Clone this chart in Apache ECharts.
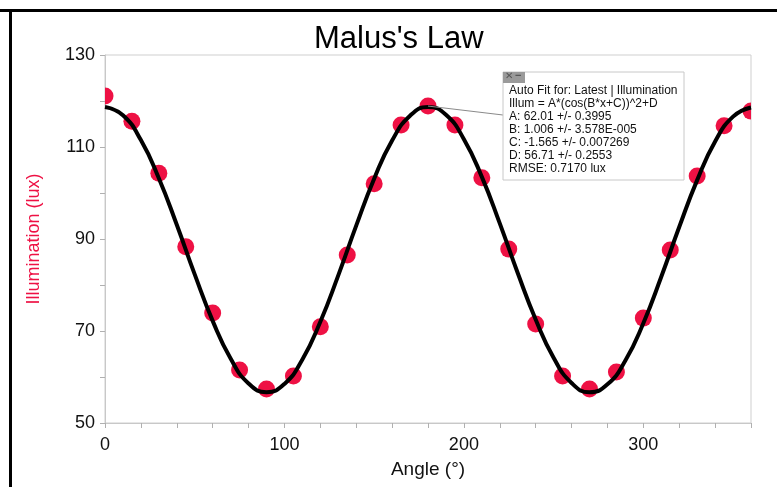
<!DOCTYPE html>
<html>
<head>
<meta charset="utf-8">
<script src="https://cdn.jsdelivr.net/npm/echarts@6/dist/echarts.min.js"></script>
<style>
html,body{margin:0;padding:0;background:#fff;}
#chart{width:777px;height:487px;}
</style>
</head>
<body>
<div id="chart"></div>
<script>
// Measured data points (angle in degrees, illumination in lux)
var angles = [0,15,30,45,60,75,90,105,120,135,150,165,180,195,210,225,240,255,270,285,300,315,330,345,360];
var illumination = [121.1,115.6,104.3,88.3,73.9,61.5,57.4,60.2,70.9,86.5,102.0,114.8,118.9,114.8,103.3,87.8,71.5,60.2,57.4,61.1,72.8,87.6,103.7,114.6,117.8];

// Fit curve
var fitAngles = [0,10,20,30,40,50,60,70,80,90,100,110,120,130,140,150,160,170,180,190,200,210,220,230,240,250,260,270,280,290,300,310,320,330,340,350,360];
var fitValues = [118.7,116.9,111.5,103.2,93.1,82.3,72.2,64.0,58.6,56.7,58.5,63.8,72.0,82.1,92.9,103.1,111.4,116.8,118.7,117.0,111.7,103.5,93.4,82.6,72.5,64.2,58.7,56.7,58.4,63.6,71.7,81.8,92.6,102.8,111.2,116.6,118.6];

var yTickLabels = [50,70,90,110,130];
var xTickLabels = [0,100,200,300];

var fitText = [
  'Auto Fit for: Latest | Illumination',
  'Illum = A*(cos(B*x+C))^2+D',
  'A: 62.01 +/- 0.3995',
  'B: 1.006 +/- 3.578E-005',
  'C: -1.565 +/- 0.007269',
  'D: 56.71 +/- 0.2553',
  'RMSE: 0.7170 lux'
];
var annotatedIndex = 12;

var ptData = angles.map(function(a,i){return [a, illumination[i]];});
var fitData = fitAngles.map(function(a,i){return [a, fitValues[i]];});

var FONT = 'Liberation Sans, Arial, sans-serif';
var RED = '#ee1144';

var chart = echarts.init(document.getElementById('chart'), null, {renderer:'canvas'});
var option = {
  animation:false,
  backgroundColor:'#fff',
  title:{
    text:"Malus's Law",
    left:309, top:19,
    textStyle:{fontFamily:FONT, fontSize:31, fontWeight:'normal', color:'#000'}
  },
  grid:{left:105, right:26, top:55, bottom:64, show:true, borderColor:'#cfcfcf', borderWidth:1, backgroundColor:'transparent'},
  xAxis:{
    type:'value', min:0, max:360, interval:20,
    name:'Angle (°)', nameLocation:'middle', nameGap:37,
    nameTextStyle:{fontFamily:FONT, fontSize:19, color:'#111'},
    axisLine:{show:true, lineStyle:{color:'#c8c8c8', width:1}},
    axisTick:{show:true, length:5, lineStyle:{color:'#b0b0b0'}},
    splitLine:{show:false},
    axisLabel:{
      fontFamily:FONT, fontSize:18, color:'#111', margin:13,
      formatter:function(v){return xTickLabels.indexOf(v)>=0 ? String(v) : '';}
    }
  },
  yAxis:{
    type:'value', min:50, max:130, interval:10,
    name:'Illumination (lux)', nameLocation:'middle', nameGap:62,
    nameTextStyle:{fontFamily:FONT, fontSize:18, color:RED},
    axisLine:{show:true, lineStyle:{color:'#c8c8c8', width:1}},
    axisTick:{show:true, length:5, lineStyle:{color:'#b0b0b0'}},
    splitLine:{show:false},
    axisLabel:{
      fontFamily:FONT, fontSize:18, color:'#111', margin:10,
      formatter:function(v){return yTickLabels.indexOf(v)>=0 ? String(v) : '';}
    }
  },
  series:[
    {
      type:'custom',
      clip:true,
      data:ptData,
      z:2,
      renderItem:function(params, api){
        var p = api.coord([api.value(0), api.value(1)]);
        return {type:'circle', shape:{cx:p[0], cy:p[1], r:8.5}, style:{fill:RED}};
      },
      encode:{x:0, y:1}
    },
    {
      type:'line',
      data:fitData,
      smooth:0.5,
      showSymbol:false,
      clip:true,
      z:3,
      lineStyle:{color:'#000', width:4}
    }
  ]
};
chart.setOption(option);

// annotation box
var p = chart.convertToPixel({gridIndex:0}, ptData[annotatedIndex]);
var bx = 503, by = 72, bw = 181, bh = 108;
var g = [
  {type:'rect', shape:{x:0, y:9, width:777, height:3}, style:{fill:'#000'}, z:100},
  {type:'rect', shape:{x:9, y:9, width:3, height:478}, style:{fill:'#000'}, z:100},
  {type:'line', shape:{x1:p[0], y1:p[1], x2:bx, y2:by+43}, style:{stroke:'#8a8a8a', lineWidth:1}, z:50},
  {type:'rect', shape:{x:bx, y:by, width:bw, height:bh}, style:{fill:'#fff', stroke:'#c8c8c8', lineWidth:1}, z:60},
  {type:'rect', shape:{x:bx, y:by, width:22, height:11}, style:{fill:'#9a9a9a'}, z:61},
  {type:'text', x:bx+2, y:by-1, style:{text:'✕', font:'10px '+FONT, fill:'#555'}, z:62},
  {type:'text', x:bx+12, y:by-2, style:{text:'−', font:'bold 11px '+FONT, fill:'#555'}, z:62}
];
fitText.forEach(function(t,i){
  g.push({type:'text', x:bx+6, y:by+13+i*13, style:{text:t, font:'12px '+FONT, fill:'#111'}, z:62});
});
chart.setOption({graphic:g});
</script>
</body>
</html>
